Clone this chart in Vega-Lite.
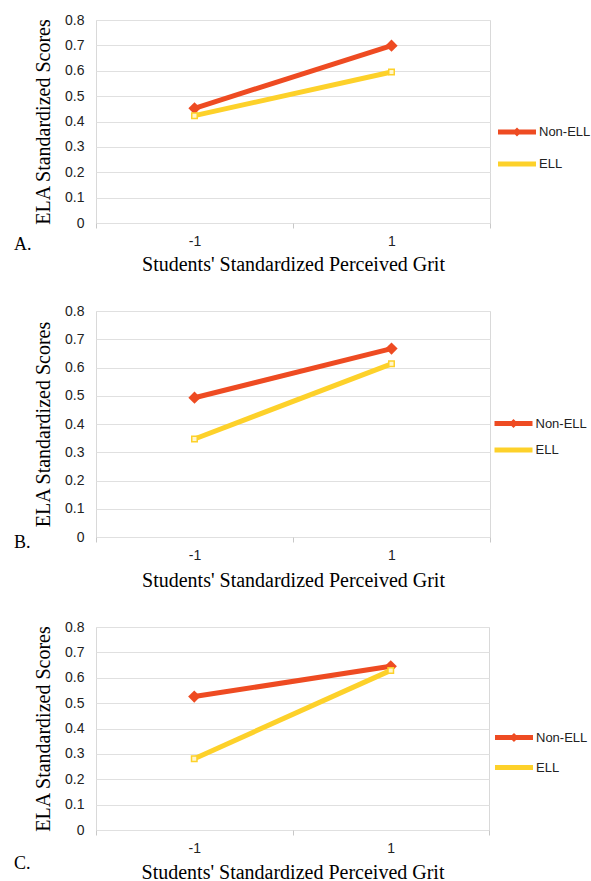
{
  "$schema": "https://vega.github.io/schema/vega-lite/v6.json",
  "background": "white",
  "padding": {"left": 13, "top": 12, "right": 0, "bottom": 0},
  "datasets": {
    "grit": [
      {"panel": "A", "group": "Non-ELL", "grit": -1, "score": 0.452},
      {"panel": "A", "group": "Non-ELL", "grit": 1, "score": 0.699},
      {"panel": "A", "group": "ELL", "grit": -1, "score": 0.423},
      {"panel": "A", "group": "ELL", "grit": 1, "score": 0.595},
      {"panel": "B", "group": "Non-ELL", "grit": -1, "score": 0.493},
      {"panel": "B", "group": "Non-ELL", "grit": 1, "score": 0.667},
      {"panel": "B", "group": "ELL", "grit": -1, "score": 0.347},
      {"panel": "B", "group": "ELL", "grit": 1, "score": 0.613},
      {"panel": "C", "group": "Non-ELL", "grit": -1, "score": 0.526},
      {"panel": "C", "group": "Non-ELL", "grit": 1, "score": 0.645},
      {"panel": "C", "group": "ELL", "grit": -1, "score": 0.281},
      {"panel": "C", "group": "ELL", "grit": 1, "score": 0.629}
    ]
  },
  "config": {
    "view": {"stroke": "#d9d9d9"},
    "axis": {
      "labelFont": "Liberation Sans", "labelFontSize": 14, "labelColor": "#222",
      "titleFont": "Liberation Serif", "titleFontSize": 20, "titleFontWeight": "normal", "titleColor": "#000",
      "gridColor": "#e0e0e0", "domain": false
    },
    "legend": {
      "orient": "none", "padding": 0, "labelFont": "Liberation Sans", "labelFontSize": 13, "labelColor": "#222",
      "symbolSize": 100, "symbolStrokeWidth": 5, "labelOffset": 14.5, "title": null
    },
    "title": {
      "orient": "bottom", "anchor": "start", "frame": "group", "dx": -82, "offset": 0,
      "font": "Liberation Serif", "fontSize": 18, "fontWeight": "normal", "color": "#000", "baseline": "alphabetic"
    }
  },
  "spacing": 28,
  "resolve": {"scale": {"color": "independent"}, "legend": {"color": "independent"}},
  "vconcat": [
    {
      "width": 394, "height": 203,
      "title": {"text": "A.", "dy": -42},
      "data": {"name": "grit"},
      "transform": [{"filter": "datum.panel == 'A'"}],
      "encoding": {
        "x": {"field": "grit", "type": "quantitative", "scale": {"domain": [-2, 2], "nice": false, "zero": false},
          "axis": {"values": [-2, -1, 0, 1, 2], "labelExpr": "datum.value == -1 ? '-1' : datum.value == 1 ? '1' : ''",
            "tickColor": {"condition": {"test": "abs(datum.value) == 1", "value": "transparent"}, "value": "#c8c8c8"},
            "tickSize": 5, "labelPadding": 6, "labelOverlap": false, "labelFlush": false, "grid": false,
            "title": "Students' Standardized Perceived Grit", "titlePadding": 6}},
        "y": {"field": "score", "type": "quantitative", "scale": {"domain": [0, 0.8], "nice": false},
          "axis": {"values": [0, 0.1, 0.2, 0.3, 0.4, 0.5, 0.6, 0.7, 0.8], "format": ".1~f", "ticks": false, "tickSize": 0,
            "labelPadding": 12, "title": "ELA Standardized Scores", "titlePadding": 11, "grid": true}}
      },
      "layer": [
        {"mark": {"type": "line", "strokeWidth": 5, "strokeCap": "butt"},
          "encoding": {"color": {"field": "group", "type": "nominal",
            "scale": {"domain": ["Non-ELL", "ELL"], "range": ["#ee4b22", "#fdd12a"]},
            "legend": {"legendX": 413.5, "legendY": 104.5, "rowPadding": 10,
              "encode": {"symbols": {"update": {
                "shape": {"signal": "datum.value === 'Non-ELL' ? 'M-3.8,0L3.8,0M-0.2,0L0,-0.2L0.2,0L0,0.2Z' : 'M-3.8,0L3.8,0'"},
                "stroke": {"signal": "datum.value === 'Non-ELL' ? '#ee4b22' : '#fdd12a'"},
                "fill": {"signal": "datum.value === 'Non-ELL' ? '#ee4b22' : '#fdd12a'"},
                "strokeWidth": {"value": 5}, "opacity": {"value": 1}}}}}}}},
        {"transform": [{"filter": "datum.group == 'Non-ELL'"}],
          "mark": {"type": "point", "shape": "diamond", "filled": true, "size": 150, "color": "#ee4b22", "opacity": 1}},
        {"transform": [{"filter": "datum.group == 'ELL'"}],
          "mark": {"type": "point", "shape": "square", "filled": true, "size": 30, "fill": "#fff6cc", "stroke": "#fdd12a", "strokeWidth": 1.5, "opacity": 1}}
      ]
    },
    {
      "width": 394, "height": 226,
      "title": {"text": "B.", "dy": -60},
      "data": {"name": "grit"},
      "transform": [{"filter": "datum.panel == 'B'"}],
      "encoding": {
        "x": {"field": "grit", "type": "quantitative", "scale": {"domain": [-2, 2], "nice": false, "zero": false},
          "axis": {"values": [-2, -1, 0, 1, 2], "labelExpr": "datum.value == -1 ? '-1' : datum.value == 1 ? '1' : ''",
            "tickColor": {"condition": {"test": "abs(datum.value) == 1", "value": "transparent"}, "value": "#c8c8c8"},
            "tickSize": 5, "labelPadding": 6, "labelOverlap": false, "labelFlush": false, "grid": false,
            "title": "Students' Standardized Perceived Grit", "titlePadding": 8}},
        "y": {"field": "score", "type": "quantitative", "scale": {"domain": [0, 0.8], "nice": false},
          "axis": {"values": [0, 0.1, 0.2, 0.3, 0.4, 0.5, 0.6, 0.7, 0.8], "format": ".1~f", "ticks": false, "tickSize": 0,
            "labelPadding": 12, "title": "ELA Standardized Scores", "titlePadding": 11, "grid": true}}
      },
      "layer": [
        {"mark": {"type": "line", "strokeWidth": 5, "strokeCap": "butt"},
          "encoding": {"color": {"field": "group", "type": "nominal",
            "scale": {"domain": ["Non-ELL", "ELL"], "range": ["#ee4b22", "#fdd12a"]},
            "legend": {"legendX": 410, "legendY": 105, "rowPadding": 4.5,
              "encode": {"symbols": {"update": {
                "shape": {"signal": "datum.value === 'Non-ELL' ? 'M-3.8,0L3.8,0M-0.2,0L0,-0.2L0.2,0L0,0.2Z' : 'M-3.8,0L3.8,0'"},
                "stroke": {"signal": "datum.value === 'Non-ELL' ? '#ee4b22' : '#fdd12a'"},
                "fill": {"signal": "datum.value === 'Non-ELL' ? '#ee4b22' : '#fdd12a'"},
                "strokeWidth": {"value": 5}, "opacity": {"value": 1}}}}}}}},
        {"transform": [{"filter": "datum.group == 'Non-ELL'"}],
          "mark": {"type": "point", "shape": "diamond", "filled": true, "size": 150, "color": "#ee4b22", "opacity": 1}},
        {"transform": [{"filter": "datum.group == 'ELL'"}],
          "mark": {"type": "point", "shape": "square", "filled": true, "size": 30, "fill": "#fff6cc", "stroke": "#fdd12a", "strokeWidth": 1.5, "opacity": 1}}
      ]
    },
    {
      "width": 393, "height": 203,
      "title": {"text": "C.", "dy": -31},
      "data": {"name": "grit"},
      "transform": [{"filter": "datum.panel == 'C'"}],
      "encoding": {
        "x": {"field": "grit", "type": "quantitative", "scale": {"domain": [-2, 2], "nice": false, "zero": false},
          "axis": {"values": [-2, -1, 0, 1, 2], "labelExpr": "datum.value == -1 ? '-1' : datum.value == 1 ? '1' : ''",
            "tickColor": {"condition": {"test": "abs(datum.value) == 1", "value": "transparent"}, "value": "#c8c8c8"},
            "tickSize": 5, "labelPadding": 6, "labelOverlap": false, "labelFlush": false, "grid": false,
            "title": "Students' Standardized Perceived Grit", "titlePadding": 7}},
        "y": {"field": "score", "type": "quantitative", "scale": {"domain": [0, 0.8], "nice": false},
          "axis": {"values": [0, 0.1, 0.2, 0.3, 0.4, 0.5, 0.6, 0.7, 0.8], "format": ".1~f", "ticks": false, "tickSize": 0,
            "labelPadding": 12, "title": "ELA Standardized Scores", "titlePadding": 11, "grid": true}}
      },
      "layer": [
        {"mark": {"type": "line", "strokeWidth": 5, "strokeCap": "butt"},
          "encoding": {"color": {"field": "group", "type": "nominal",
            "scale": {"domain": ["Non-ELL", "ELL"], "range": ["#ee4b22", "#fdd12a"]},
            "legend": {"legendX": 410.5, "legendY": 103, "rowPadding": 8,
              "encode": {"symbols": {"update": {
                "shape": {"signal": "datum.value === 'Non-ELL' ? 'M-3.8,0L3.8,0M-0.2,0L0,-0.2L0.2,0L0,0.2Z' : 'M-3.8,0L3.8,0'"},
                "stroke": {"signal": "datum.value === 'Non-ELL' ? '#ee4b22' : '#fdd12a'"},
                "fill": {"signal": "datum.value === 'Non-ELL' ? '#ee4b22' : '#fdd12a'"},
                "strokeWidth": {"value": 5}, "opacity": {"value": 1}}}}}}}},
        {"transform": [{"filter": "datum.group == 'Non-ELL'"}],
          "mark": {"type": "point", "shape": "diamond", "filled": true, "size": 150, "color": "#ee4b22", "opacity": 1}},
        {"transform": [{"filter": "datum.group == 'ELL'"}],
          "mark": {"type": "point", "shape": "square", "filled": true, "size": 30, "fill": "#fff6cc", "stroke": "#fdd12a", "strokeWidth": 1.5, "opacity": 1}}
      ]
    }
  ]
}
